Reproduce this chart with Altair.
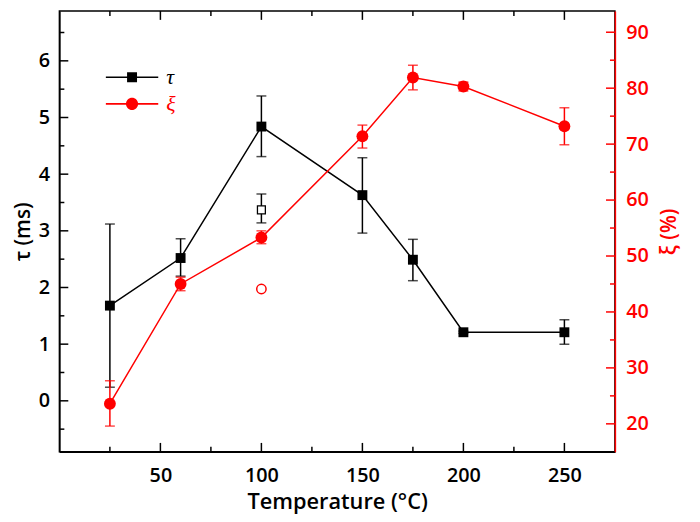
import altair as alt
import pandas as pd

# ---- data ----
temps = [25, 60, 100, 150, 175, 200, 250]
tau = [1.68, 2.52, 4.84, 3.63, 2.49, 1.21, 1.21]
tau_lo = [0.24, 2.20, 4.31, 2.96, 2.12, 1.19, 1.00]
tau_hi = [3.12, 2.86, 5.38, 4.29, 2.85, 1.23, 1.43]
xi = [23.6, 45.0, 53.3, 71.4, 81.9, 80.3, 73.2]
xi_lo = [19.6, 43.8, 52.2, 69.3, 79.7, 79.5, 69.9]
xi_hi = [27.7, 46.2, 54.5, 73.4, 84.1, 81.1, 76.5]

open_temp = [100]
open_tau = [3.37]
open_tau_lo = [3.14]
open_tau_hi = [3.65]
open_xi = [44.1]

x_major = [50, 100, 150, 200, 250]
x_minor = [25, 75, 125, 175, 225]
yl_major = [0, 1, 2, 3, 4, 5, 6]
yl_minor = [-0.5, 0.5, 1.5, 2.5, 3.5, 4.5, 5.5, 6.5]
yr_major = [20, 30, 40, 50, 60, 70, 80, 90]
yr_minor = [25, 35, 45, 55, 65, 75, 85]

W, H = 562, 446
RED = "#ff0000"
BLK = "#000000"
FONT = "Open Sans"

df_tau = pd.DataFrame({"T": temps, "v": tau, "lo": tau_lo, "hi": tau_hi})
df_xi = pd.DataFrame({"T": temps, "v": xi, "lo": xi_lo, "hi": xi_hi})
df_otau = pd.DataFrame({"T": open_temp, "v": open_tau, "lo": open_tau_lo, "hi": open_tau_hi})
df_oxi = pd.DataFrame({"T": open_temp, "v": open_xi})

x_scale = alt.Scale(domain=[0, 275], nice=False, zero=False)
x_axis = alt.Axis(values=x_major, ticks=False, grid=False, title="Temperature (°C)",
                  labelPadding=14, titlePadding=6, titleFontSize=22,
                  domainColor=BLK, domainWidth=1.5)
yl_scale = alt.Scale(domain=[-0.9, 6.88], nice=False, zero=False)
yl_axis = alt.Axis(values=yl_major, ticks=False, grid=False, title="τ (ms)",
                   labelPadding=10, titlePadding=5, domainColor=BLK, domainWidth=1.5)
yr_scale = alt.Scale(domain=[15, 93.8], nice=False, zero=False)
yr_axis = alt.Axis(values=yr_major, ticks=False, grid=False, title="ξ (%)", orient="right",
                   labelPadding=11, titlePadding=10, titleAngle=270, titleBaseline="top",
                   domainColor=RED, domainWidth=1.5, labelColor=RED, titleColor=RED)


def X(field="T"):
    return alt.X(f"{field}:Q", scale=x_scale, axis=x_axis)


def YL(field="v"):
    return alt.Y(f"{field}:Q", scale=yl_scale, axis=yl_axis)


def YR(field="v"):
    return alt.Y(f"{field}:Q", scale=yr_scale, axis=yr_axis)


def errbars(df, Y, color, capw=10):
    rule = alt.Chart(df).mark_rule(color=color, strokeWidth=1.5).encode(
        x=X(), y=Y("lo"), y2="hi:Q")
    cap_lo = alt.Chart(df).mark_tick(orient="horizontal", color=color, size=capw,
                                     thickness=1.5).encode(x=X(), y=Y("lo"))
    cap_hi = alt.Chart(df).mark_tick(orient="horizontal", color=color, size=capw,
                                     thickness=1.5).encode(x=X(), y=Y("hi"))
    return [rule, cap_lo, cap_hi]


# ---- tau (left axis) ----
tau_line = alt.Chart(df_tau).mark_line(color=BLK, strokeWidth=1.5).encode(x=X(), y=YL())
tau_pts = alt.Chart(df_tau).mark_point(shape="square", filled=True, color=BLK, size=100,
                                       opacity=1).encode(x=X(), y=YL())
otau_pts = alt.Chart(df_otau).mark_point(shape="square", filled=False, color=BLK, fill="white",
                                         fillOpacity=1, size=64, strokeWidth=1.3,
                                         opacity=1).encode(x=X(), y=YL())


# minor/major ticks drawn inward
def vticks(vals, Y, x0, x1, color):
    d = pd.DataFrame({"v": vals})
    return alt.Chart(d).mark_rule(color=color, strokeWidth=1.5).encode(
        y=Y("v"), x=alt.value(x0), x2=alt.value(x1))


def hticks(vals, y0, y1):
    d = pd.DataFrame({"T": vals})
    return alt.Chart(d).mark_rule(color=BLK, strokeWidth=1.5).encode(
        x=X(), y=alt.value(y0), y2=alt.value(y1))


left_ticks = [
    vticks(yl_major, YL, 0, 9, BLK),
    vticks(yl_minor, YL, 0, 5, BLK),
    hticks(x_major, H, H - 9),
    hticks(x_minor, H, H - 5),
    hticks(x_major, 0, 9),
    hticks(x_minor, 0, 5),
]

# legend-only layers
SQ_PATH = "M-1,-0.03H1V0.03H-1Z M-0.19,-0.19H0.19V0.19H-0.19Z"
CI_PATH = ("M-1,-0.03H1V0.03H-1Z M0.23,0A0.23,0.23,0,1,1,-0.23,0"
           "A0.23,0.23,0,1,1,0.23,0Z")


def legend_layer(name, color, path, Y, yval, ly):
    d = pd.DataFrame({"T": [temps[0]], "v": [yval], "s": [name]})
    leg = alt.Legend(title=None, orient="none", legendX=47, legendY=ly, padding=0,
                     symbolSize=2809, symbolStrokeWidth=0, labelFont="Liberation Serif",
                     labelFontSize=22, labelFontStyle="italic", labelColor=color,
                     labelOffset=8, symbolOpacity=1)
    return alt.Chart(d).mark_point(filled=True, opacity=0).encode(
        x=X(), y=Y(),
        color=alt.Color("s:N", scale=alt.Scale(domain=[name], range=[color]), legend=leg),
        shape=alt.Shape("s:N", scale=alt.Scale(domain=[name], range=[path]), legend=leg),
    )


tau_leg = legend_layer("τ", BLK, SQ_PATH, YL, tau[0], 40.5)

left = alt.layer(
    *left_ticks, tau_line, *errbars(df_tau, YL, BLK), *errbars(df_otau, YL, BLK),
    tau_pts, otau_pts, tau_leg,
)

# ---- xi (right axis) ----
xi_line = alt.Chart(df_xi).mark_line(color=RED, strokeWidth=1.5).encode(x=X(), y=YR())
xi_pts = alt.Chart(df_xi).mark_point(shape="circle", filled=True, color=RED, size=144,
                                     opacity=1).encode(x=X(), y=YR())
oxi_pts = alt.Chart(df_oxi).mark_point(shape="circle", filled=False, color=RED, size=90,
                                       strokeWidth=1.5, opacity=1).encode(x=X(), y=YR())
right_ticks = [
    vticks(yr_major, YR, W - 9, W, RED),
    vticks(yr_minor, YR, W - 5, W, RED),
]
xi_leg = legend_layer("ξ", RED, CI_PATH, YR, xi[0], 67.5)

right = alt.layer(*right_ticks, xi_line, *errbars(df_xi, YR, RED), xi_pts, oxi_pts, xi_leg)

chart = alt.layer(left, right).resolve_scale(
    y="independent", color="independent", shape="independent"
).properties(
    width=W, height=H,
    autosize=alt.AutoSizeParams(type="none"),
    padding={"left": 52, "top": 0, "right": 78, "bottom": 68},
).configure_view(
    stroke=BLK, strokeWidth=1.5
).configure_axis(
    labelFont=FONT, labelFontSize=20, labelFontWeight=600,
    titleFont=FONT, titleFontSize=21, titleFontWeight=600,
    labelColor=BLK, titleColor=BLK,
)

chart.save("out.html", embed_options={"renderer": "svg", "actions": False})
